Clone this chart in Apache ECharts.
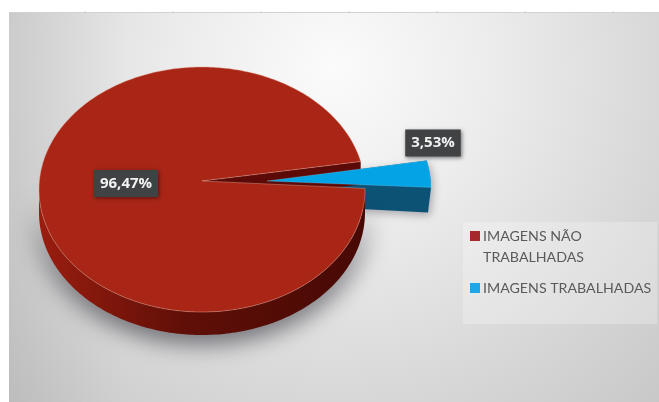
<!DOCTYPE html>
<html>
<head>
<meta charset="utf-8">
<style>html,body{margin:0;padding:0;background:#fff}#c{width:659px;height:402px}</style>
<script src="https://cdn.jsdelivr.net/npm/echarts@6/dist/echarts.min.js"></script>
</head>
<body>
<div id="c"></div>
<script>
const categories = ['IMAGENS NÃO TRABALHADAS', 'IMAGENS TRABALHADAS'];
const legendLines = ['IMAGENS NÃO\nTRABALHADAS', 'IMAGENS TRABALHADAS'];
const shares = [96.47, 3.53];

const total = shares.reduce((a, b) => a + b, 0);
const disc = { cx: 202, cy: 189.5, rx: 163, ry: 122.5, apexY: 181, depth: 23 };
const START_DEG = -0.5;
const FULL_TURN = 360;

function rimPoint(deg, dx, dy) {
  const t = deg * Math.PI / 180;
  return [disc.cx + dx + disc.rx * Math.cos(t), disc.cy + dy + disc.ry * Math.sin(t)];
}
function arcPoints(from, to, dx, dy) {
  const n = Math.max(2, Math.ceil(Math.abs(to - from)));
  const pts = [];
  for (let k = 0; k <= n; k++) pts.push(rimPoint(from + (to - from) * k / n, dx, dy));
  return pts;
}
const fmt = v => v.toFixed(2).replace('.', ',') + '%';
const labelBox = text => ({
  type: 'text', z2: 8,
  style: {
    text, fill: '#f2f2f2', font: 'bold 15px "Open Sans", sans-serif',
    backgroundColor: '#404244', padding: [6, 6, 6, 6],
    align: 'center', verticalAlign: 'middle',
    shadowBlur: 4, shadowColor: 'rgba(0,0,0,0.5)', shadowOffsetX: 1, shadowOffsetY: 1
  }
});

// Large slice: its top face, the outer wall and the inner wall of the notch.
function renderMain(params, api) {
  const span = api.value(0) / total * FULL_TURN;
  const a0 = START_DEG, a1 = START_DEG + span;
  const apex = [disc.cx, disc.apexY];
  const front = arcPoints(a0, 180, 0, 0);
  const wall = front.concat(arcPoints(180, a0, 0, disc.depth));
  const rimEnd = rimPoint(a1, 0, 0);
  return {
    type: 'group',
    children: [
      {
        type: 'polygon', z2: 2,
        shape: { points: wall },
        style: {
          fill: {
            type: 'linear', x: 0, y: 0, x2: 1, y2: 0,
            colorStops: [
              { offset: 0, color: '#9a1d10' },
              { offset: 0.45, color: '#5f0f07' },
              { offset: 1, color: '#470904' }
            ]
          },
          shadowBlur: 26, shadowColor: 'rgba(40,40,50,0.8)', shadowOffsetY: 6
        }
      },
      {
        type: 'polygon', z2: 3,
        shape: { points: [apex, rimEnd, [rimEnd[0], rimEnd[1] + disc.depth], [apex[0], apex[1] + disc.depth]] },
        style: { fill: '#5c0a08' }
      },
      {
        type: 'polygon', z2: 4,
        shape: { points: [apex].concat(arcPoints(a0, a1, 0, 0)) },
        style: { fill: '#a92516', stroke: 'rgba(225,165,145,0.55)', lineWidth: 0.8 }
      },
      Object.assign(labelBox(fmt(api.value(0))), { x: 126, y: 183.5 })
    ]
  };
}

// Exploded slice: walls sit under the large slice, the top face above it.
function renderExploded(params, api) {
  const span = api.value(0) / total * FULL_TURN;
  const a1 = START_DEG, a0 = START_DEG - span;
  const dx = 66, dy = -1;
  const apex = [disc.cx + 65, disc.apexY];
  const top = arcPoints(a0, a1, dx, dy);
  const d = disc.depth;
  const rimEnd = top[top.length - 1];
  return {
    type: 'group',
    children: [
      {
        type: 'polygon', z2: 1,
        shape: { points: top.concat([[rimEnd[0] - 3, rimEnd[1] + d + 2], [apex[0], apex[1] + d]]).concat([apex]) },
        style: { fill: '#0b5275', shadowBlur: 8, shadowColor: 'rgba(60,60,70,0.4)', shadowOffsetX: 2, shadowOffsetY: 3 }
      },
      {
        type: 'polygon', z2: 5,
        shape: { points: [apex].concat(top) },
        style: { fill: '#03a4e6', stroke: 'rgba(150,210,235,0.5)', lineWidth: 0.5 }
      },
      Object.assign(labelBox(fmt(api.value(0))), { x: 433, y: 143 })
    ]
  };
}

// Full-height icons so the marker can sit on the first text line or mid-row.
const ICON_TOP = 'path://M0,2H10V12H0Z M0,34';
const ICON_MID = 'path://M0,0 M0,12H10V22H0Z M0,34';

const ticks = [85, 173, 261, 349, 437, 525, 613].map(x => ({
  type: 'line', z: 1, silent: true,
  shape: { x1: x, y1: 11, x2: x, y2: 13 },
  style: { stroke: '#cfcfcf', lineWidth: 1 }
}));

const option = {
  animation: false,
  textStyle: { fontFamily: 'Lato, sans-serif' },
  legend: {
    left: 463, top: 222,
    orient: 'vertical',
    padding: [4, 6, 19, 7],
    itemWidth: 10, itemHeight: 34, itemGap: 3,
    backgroundColor: 'rgba(255,255,255,0.25)',
    selectedMode: false,
    textStyle: { color: '#5a5a5a', fontSize: 14.2, fontFamily: 'Lato, sans-serif', lineHeight: 21, padding: [0, 0, 0, -2] },
    data: [
      { name: categories[0], icon: ICON_TOP },
      { name: categories[1], icon: ICON_MID }
    ],
    formatter: name => legendLines[categories.indexOf(name)]
  },
  graphic: [
    {
      type: 'rect', z: 0, silent: true,
      shape: { x: 9, y: 13, width: 650, height: 389 },
      style: {
        fill: {
          type: 'radial', x: 0.5, y: 0.14, r: 1.2,
          colorStops: [
            { offset: 0, color: '#fbfbfb' },
            { offset: 0.34, color: '#ececec' },
            { offset: 0.7, color: '#d8d8d8' },
            { offset: 1, color: '#c8c8c8' }
          ]
        }
      }
    },
    {
      type: 'rect', z: 0, silent: true,
      shape: { x: 9, y: 13, width: 650, height: 389 },
      style: {
        fill: {
          type: 'linear', x: 0, y: 0, x2: 1, y2: 0,
          colorStops: [
            { offset: 0, color: 'rgba(0,0,0,0.06)' },
            { offset: 0.18, color: 'rgba(0,0,0,0)' },
            { offset: 1, color: 'rgba(0,0,0,0)' }
          ]
        }
      }
    },
    {
      type: 'line', z: 1, silent: true,
      shape: { x1: 9, y1: 12.5, x2: 659, y2: 12.5 },
      style: { stroke: '#d2d2d2', lineWidth: 1 }
    }
  ].concat(ticks),
  series: [
    {
      type: 'custom', name: categories[0], coordinateSystem: 'none',
      silent: true, itemStyle: { color: '#a5282a' },
      data: [[shares[0]]], renderItem: renderMain
    },
    {
      type: 'custom', name: categories[1], coordinateSystem: 'none',
      silent: true, itemStyle: { color: '#1ea6e8' },
      data: [[shares[1]]], renderItem: renderExploded
    }
  ]
};

echarts.init(document.getElementById('c')).setOption(option);
</script>
</body>
</html>
